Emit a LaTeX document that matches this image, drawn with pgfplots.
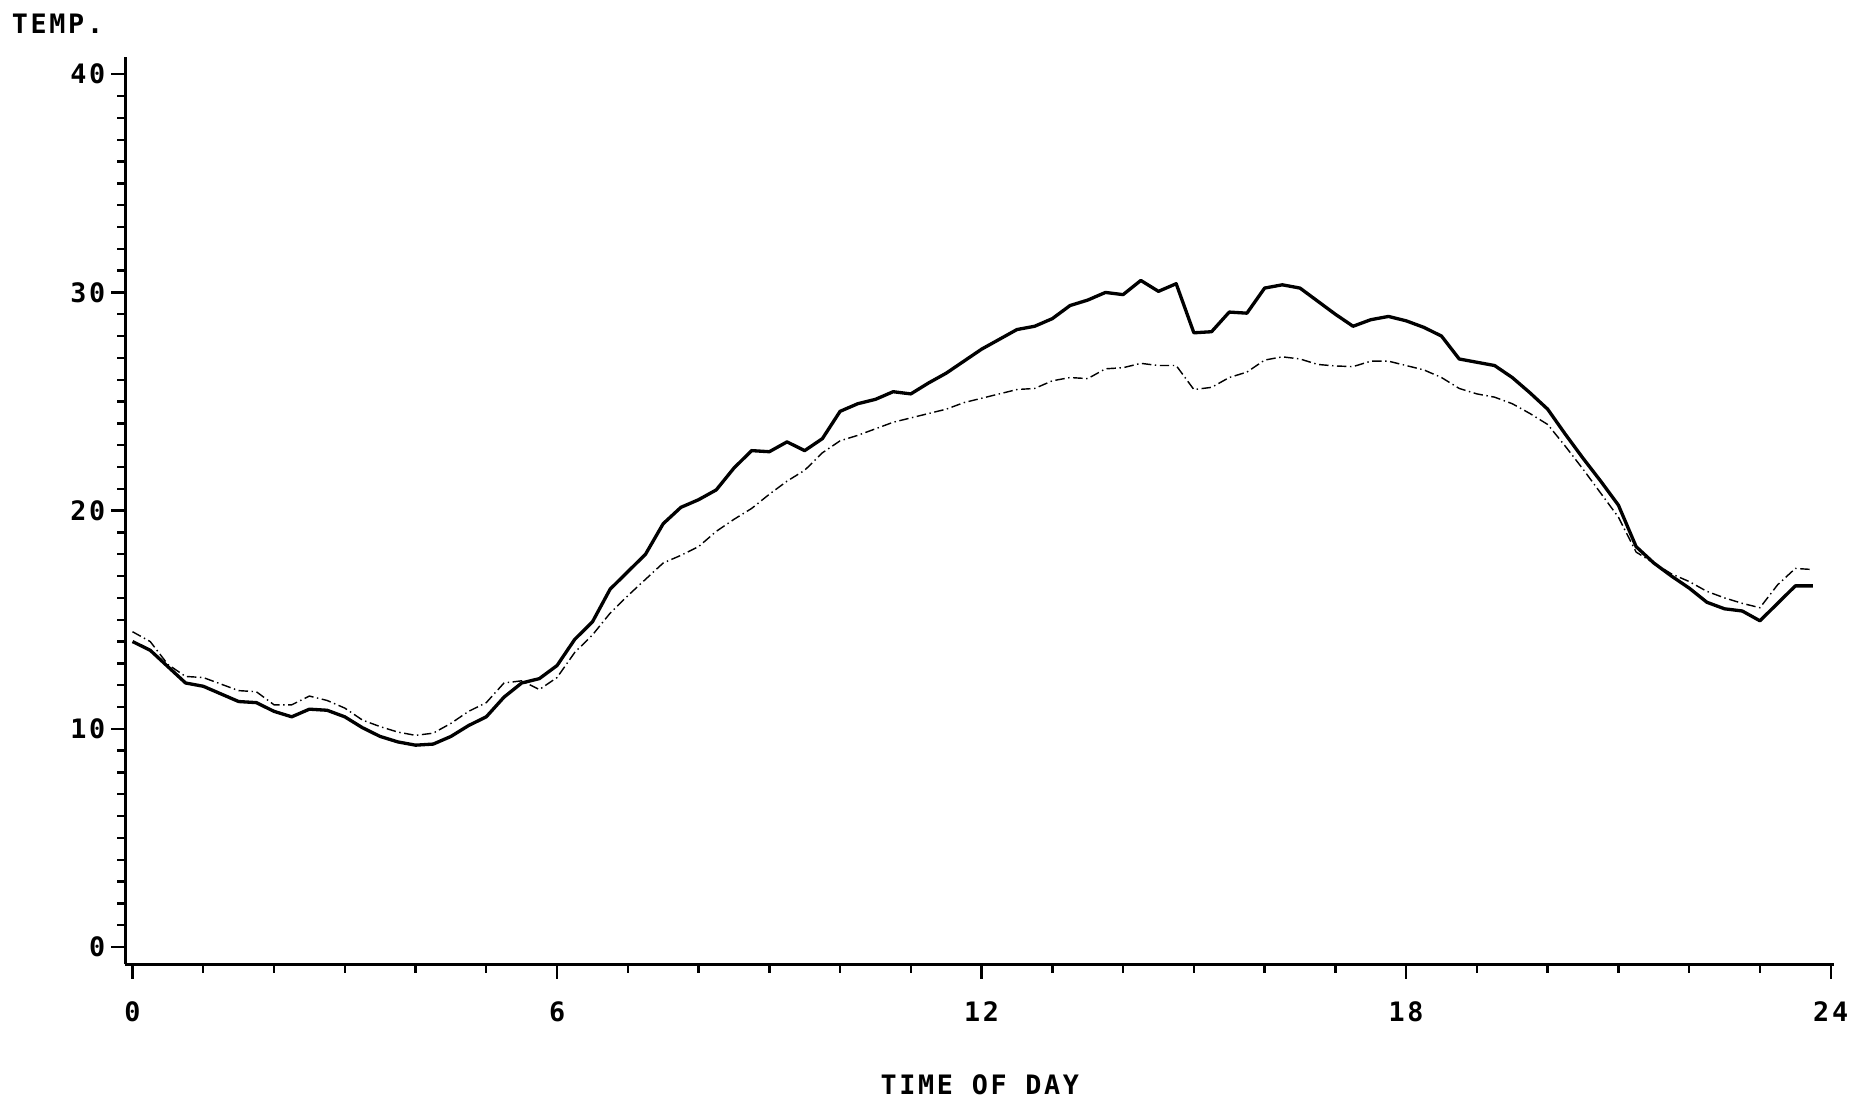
\documentclass[border=0pt]{standalone}
\usepackage{pgfplots}
\usepackage{pgfplotstable}
\pgfplotsset{compat=1.18}
\usepackage{fontspec}
\newfontfamily\plotfont[LetterSpace=10]{DejaVu Sans Mono}
\newcommand\pfont{\plotfont\bfseries\fontsize{11.3}{13}\selectfont}

% time of day (h), solid curve, dash-dot curve
\pgfplotstableread{
t     solid  dash
0.00  14.00  14.45
0.25  13.60  14.00
0.50  12.85  12.95
0.75  12.10  12.40
1.00  11.95  12.35
1.25  11.60  12.05
1.50  11.25  11.75
1.75  11.20  11.70
2.00  10.80  11.10
2.25  10.55  11.10
2.50  10.90  11.50
2.75  10.85  11.30
3.00  10.55  10.95
3.25  10.05  10.40
3.50   9.65  10.10
3.75   9.40   9.85
4.00   9.25   9.70
4.25   9.30   9.80
4.50   9.65  10.25
4.75  10.15  10.80
5.00  10.55  11.20
5.25  11.45  12.10
5.50  12.10  12.20
5.75  12.30  11.80
6.00  12.90  12.35
6.25  14.10  13.50
6.50  14.90  14.30
6.75  16.40  15.30
7.00  17.20  16.10
7.25  18.00  16.85
7.50  19.40  17.60
7.75  20.15  17.95
8.00  20.50  18.35
8.25  20.95  19.05
8.50  21.95  19.60
8.75  22.75  20.10
9.00  22.70  20.75
9.25  23.15  21.35
9.50  22.75  21.85
9.75  23.30  22.65
10.00 24.55  23.20
10.25 24.90  23.45
10.50 25.10  23.75
10.75 25.45  24.05
11.00 25.35  24.25
11.25 25.85  24.45
11.50 26.30  24.65
11.75 26.85  24.95
12.00 27.40  25.15
12.25 27.85  25.35
12.50 28.30  25.55
12.75 28.45  25.60
13.00 28.80  25.95
13.25 29.40  26.10
13.50 29.65  26.05
13.75 30.00  26.50
14.00 29.90  26.55
14.25 30.55  26.75
14.50 30.05  26.65
14.75 30.40  26.65
15.00 28.15  25.55
15.25 28.20  25.65
15.50 29.10  26.10
15.75 29.05  26.35
16.00 30.20  26.90
16.25 30.35  27.05
16.50 30.20  26.95
16.75 29.60  26.70
17.00 29.00  26.63
17.25 28.45  26.60
17.50 28.75  26.85
17.75 28.90  26.85
18.00 28.70  26.65
18.25 28.40  26.45
18.50 28.00  26.10
18.75 26.95  25.60
19.00 26.80  25.35
19.25 26.65  25.20
19.50 26.10  24.90
19.75 25.40  24.45
20.00 24.65  23.95
20.25 23.50  22.95
20.50 22.40  21.90
20.75 21.35  20.80
21.00 20.25  19.70
21.25 18.35  18.10
21.50 17.60  17.60
21.75 17.00  17.10
22.00 16.45  16.75
22.25 15.80  16.30
22.50 15.50  16.00
22.75 15.40  15.75
23.00 14.95  15.55
23.25 15.75  16.60
23.50 16.55  17.35
23.75 16.55  17.30
}\temps

\begin{document}
\begin{tikzpicture}
\begin{axis}[
    scale only axis,
    width=722pt, height=383.5pt,
    xmin=-0.1, xmax=24.05,
    ymin=-0.8, ymax=40.8,
    axis lines=left,
    axis line style={-, line width=1.1pt},
    xtick={0,6,12,18,24},
    minor xtick={1,...,23},
    ytick={0,10,20,30,40},
    minor ytick={1,...,39},
    tick align=outside,
    major tick length=6pt,
    minor tick length=3.5pt,
    every tick/.style={black, line width=1pt},
    /pgf/number format/assume math mode=true,
    tick label style={font=\pfont},
    xticklabel style={yshift=-6pt},
    yticklabel style={xshift=1pt},
    xlabel={TIME OF DAY},
    xlabel style={at={(axis description cs:0.5,0)}, anchor=center, yshift=-51pt,
        font=\pfont},
    ylabel={TEMP.},
    ylabel style={at={(axis description cs:0,1)}, rotate=-90, anchor=west,
        xshift=-51.5pt, yshift=14pt, font=\pfont},
]
\addplot[black, line width=1.4pt, line join=round] table[x=t, y=solid] {\temps};
\addplot[black, line width=0.6pt, dash pattern=on 4pt off 1.5pt on 0.6pt off 1.5pt] table[x=t, y=dash] {\temps};
\end{axis}
\path (current axis.south west) ++(-53pt,-59.5pt) rectangle ++(784pt,467pt);
\end{tikzpicture}
\end{document}
